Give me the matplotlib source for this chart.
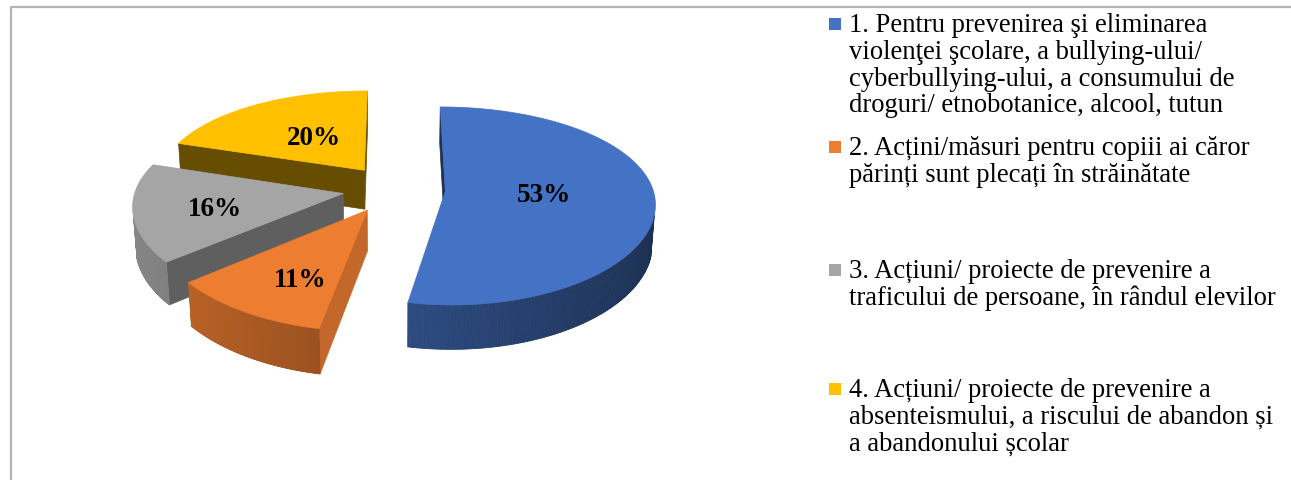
import numpy as np
import matplotlib.pyplot as plt
from matplotlib.patches import Polygon, Rectangle
from matplotlib.collections import PolyCollection
from matplotlib.colors import to_rgb

# shares of the four kinds of actions (%)
shares = [53, 11, 16, 20]
legend_lines = [
    ["1. Pentru prevenirea şi eliminarea",
     "violenţei şcolare, a bullying-ului/",
     "cyberbullying-ului, a consumului de",
     "droguri/ etnobotanice, alcool, tutun"],
    ["2. Acțini/măsuri pentru copiii ai căror",
     "părinți sunt plecați în străinătate"],
    ["3. Acțiuni/ proiecte de prevenire a",
     "traficului de persoane, în rândul elevilor"],
    ["4. Acțiuni/ proiecte de prevenire a",
     "absenteismului, a riscului de abandon și",
     "a abandonului școlar"],
]
top_colors = ["#4472C4", "#ED7D31", "#A5A5A5", "#FFC000"]
cut_colors = ["#1F3050", "#C4672B", "#5F5F5F", "#664D00"]
explode = [0.248, 0.248, 0.248, 0.248]
# label placement inside each slice: radius and position along the arc (0..1)
label_r = [0.47, 0.68, 0.62, 0.45]
label_pos = [0.5, 0.35, 0.42, 0.5]

# camera for the 3d pie (radius = 1)
elev = np.radians(27.6)
dist = 6.0        # vertical foreshortening
dist_h = 8.0      # horizontal spread
focal = 1245.0
focal_h = 1660.0
cx0, cy0 = 394.0, 189.0
thick = 0.22
cam = np.array([0.0, -dist * np.cos(elev), dist * np.sin(elev)])

SERIF = "Liberation Serif"


def project(x, y, z):
    d = y * np.cos(elev) - z * np.sin(elev)
    sx = focal_h * x / (dist_h + d)
    sy = focal * (y * np.sin(elev) + z * np.cos(elev)) / (dist + d)
    return cx0 + sx, cy0 - sy


def proj_pts(pts):
    return [project(*p) for p in pts]


def facing(p, n):
    return np.dot(cam - np.asarray(p), np.asarray(n)) > 0


def shade(color, f):
    r, g, b = to_rgb(color)
    f = np.clip(f, 0, 1)
    return (r * f, g * f, b * f)


fig = plt.figure(figsize=(12.91, 4.80), dpi=100)
ax = fig.add_axes([0, 0, 1, 1])
ax.set_xlim(0, 1291)
ax.set_ylim(480, 0)
ax.axis("off")

# chart frame
ax.plot([11, 11, 1291], [480, 7, 7], color="#b4b4b4", lw=1.6, solid_capstyle="butt")

fracs = np.array(shares) / sum(shares)
edges = 2 * np.pi * np.concatenate([[0], np.cumsum(fracs)])

order = []
for i in range(len(shares)):
    t0, t1 = edges[i], edges[i + 1]
    mid = (t0 + t1) / 2
    ox, oy = explode[i] * np.sin(mid), explode[i] * np.cos(mid)
    order.append((oy, i, t0, t1, mid, ox, oy))
order.sort(reverse=True)  # farthest slice first

for _, i, t0, t1, mid, ox, oy in order:
    th = np.linspace(t0, t1, 240)
    px, py = ox + np.sin(th), oy + np.cos(th)

    # radial cut faces
    for t, n in [(t0, (-np.cos(t0), np.sin(t0), 0)), (t1, (np.cos(t1), -np.sin(t1), 0))]:
        ex, ey = ox + np.sin(t), oy + np.cos(t)
        centre = ((ox + ex) / 2, (oy + ey) / 2, -thick / 2)
        if facing(centre, n):
            quad = [(ox, oy, 0), (ex, ey, 0), (ex, ey, -thick), (ox, oy, -thick)]
            ax.add_patch(Polygon(proj_pts(quad), closed=True,
                                 facecolor=cut_colors[i], edgecolor=cut_colors[i], lw=0.5))

    # curved outer wall, shaded strip by strip
    polys, cols = [], []
    for j in range(len(th) - 1):
        tm = (th[j] + th[j + 1]) / 2
        n = (np.sin(tm), np.cos(tm), 0)
        if not facing((ox + n[0], oy + n[1], -thick / 2), n):
            continue
        quad = [(px[j], py[j], 0), (px[j + 1], py[j + 1], 0),
                (px[j + 1], py[j + 1], -thick), (px[j], py[j], -thick)]
        polys.append(proj_pts(quad))
        cols.append(shade(top_colors[i], 0.62 - 0.2 * np.sin(tm)))
    if polys:
        ax.add_collection(PolyCollection(polys, facecolors=cols, edgecolors=cols, linewidths=0.6))

    # top face
    top = [(ox, oy, 0)] + [(a, b, 0) for a, b in zip(px, py)]
    ax.add_patch(Polygon(proj_pts(top), closed=True,
                         facecolor=top_colors[i], edgecolor=top_colors[i], lw=0.5))

    ta = t0 + label_pos[i] * (t1 - t0)
    lx, ly = project(ox + label_r[i] * np.sin(ta), oy + label_r[i] * np.cos(ta), 0)
    ax.text(lx, ly, f"{shares[i]}%", ha="center", va="center",
            fontsize=19.5, fontweight="bold", family=SERIF, color="black")

# legend
legend_baselines = [32, 155, 278, 397]
line_step = 26.8
for k, lines in enumerate(legend_lines):
    base = legend_baselines[k]
    ax.add_patch(Rectangle((829, base - 14), 12, 12, facecolor=top_colors[k], edgecolor="none"))
    for m, line in enumerate(lines):
        ax.text(849, base + m * line_step, line, ha="left", va="baseline",
                fontsize=19.2, family=SERIF, color="black")

fig.savefig("out.png", dpi=100)
